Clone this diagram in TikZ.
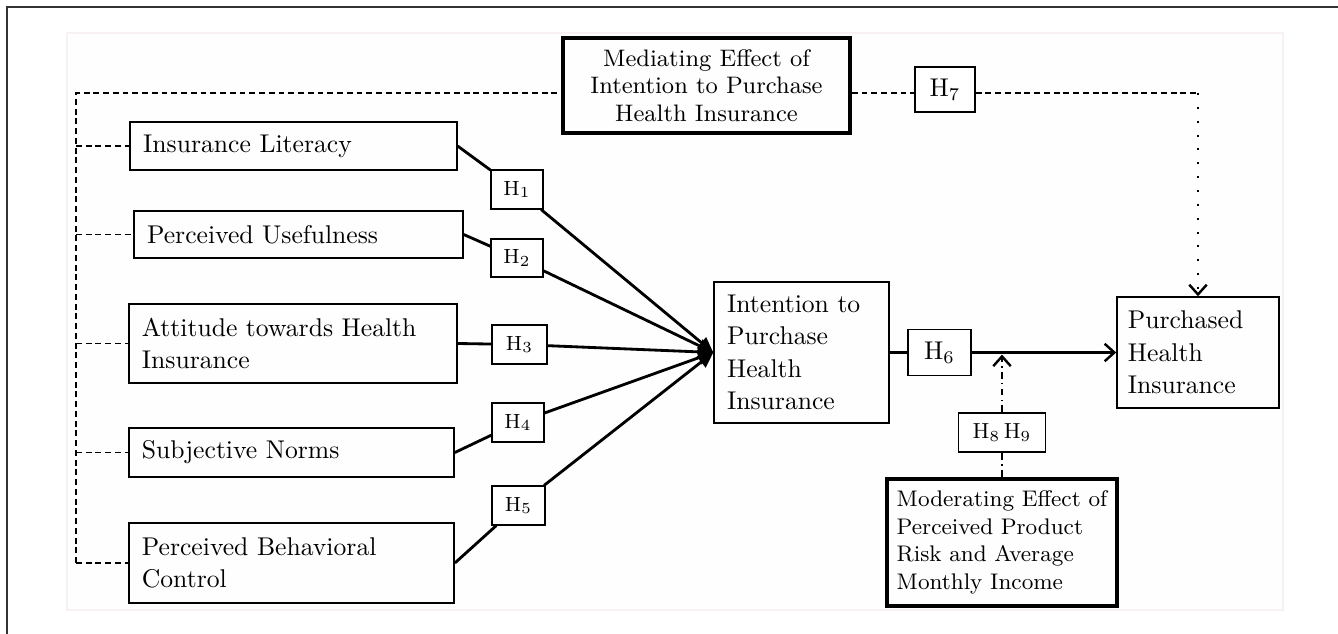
\documentclass[tikz,border=0pt]{standalone}
\usetikzlibrary{arrows.meta}
\definecolor{bgpink}{HTML}{FFFEFE}
\definecolor{bgline}{HTML}{F8F1F1}
\newcommand{\boxfont}{\fontsize{10}{12.6}\selectfont}
\newcommand{\notefont}{\fontsize{9.3}{10.7}\selectfont}
\newcommand{\modfont}{\fontsize{8.8}{10.7}\selectfont}
\newcommand{\hypfont}{\fontsize{8}{9}\selectfont}
\newcommand{\pairfont}{\fontsize{8.5}{9}\selectfont}
\tikzset{
  construct/.style={draw, line width=0.6pt, inner xsep=0.178cm, inner ysep=0pt, align=left, font=\boxfont},
  effect/.style={draw, line width=1.5pt, inner xsep=0pt, inner ysep=0pt},
  hyp/.style={draw, fill=white, line width=0.6pt, inner sep=0pt, font=\hypfont},
  hpath/.style={line width=1.1pt},
  covar/.style={line width=0.6pt, dash pattern=on 2.3pt off 1.5pt},
  dotline/.style={line width=0.95pt, dash pattern=on 0.8pt off 4.6pt},
  dashdot/.style={line width=0.55pt, dash pattern=on 2.7pt off 1.6pt on 0.7pt off 1.6pt},
  vtip/.tip={Straight Barb[length=3.8pt,width=6.8pt,line width=0.95pt]},
}
\begin{document}
\begin{tikzpicture}[x=0.0137cm, y=-0.0137cm]
    \useasboundingbox (0,0) rectangle (1338,634);
    \fill[bgpink, draw=bgline] (67,33) rectangle (1283,610);
    \draw[line width=0.8pt, black!80] (1338,7) -- (7,7) -- (7,634);

    % constructs
    \node[construct, text width=4.12cm, minimum height=0.66cm] (il) at (293.5,146) {Insurance Literacy};
    \node[construct, text width=4.15cm, minimum height=0.644cm] (pu) at (298.5,234.5) {Perceived Usefulness};
    \node[construct, text width=4.14cm, minimum height=1.08cm] (att) at (293,343.5) {Attitude towards Health\\Insurance};
    \node[construct, text width=4.10cm, minimum height=0.67cm] (sn) at (291.5,452.5) {Subjective Norms};
    \node[construct, text width=4.10cm, minimum height=1.10cm] (pbc) at (291.5,563) {Perceived Behavioral\\Control};
    \node[construct, text width=2.04cm, minimum height=1.93cm] (int) at (801.5,352.5) {Intention to\\Purchase\\Health\\Insurance};
    \node[construct, inner xsep=0.15cm, text width=1.92cm, minimum height=1.52cm] (pur) at (1198,352.5) {Purchased\\Health\\Insurance};
    \node[effect, font=\notefont, align=center, minimum width=3.93cm, minimum height=1.30cm] (med) at (706.5,85.5) {Mediating Effect of\\Intention to Purchase\\Health Insurance};
    \node[effect, font=\modfont, align=left, minimum width=3.15cm, minimum height=1.74cm] (mod) at (1002,542.5) {Moderating Effect of\\Perceived Product\\Risk and Average\\Monthly Income};

    % hypotheses
    \node[hyp, minimum width=0.71cm, minimum height=0.53cm] (h1) at (517,189.5) {H$_1$};
    \node[hyp, minimum width=0.71cm, minimum height=0.52cm] (h2) at (517,258) {H$_2$};
    \node[hyp, minimum width=0.75cm, minimum height=0.53cm] (h3) at (519.5,344.5) {H$_3$};
    \node[hyp, minimum width=0.71cm, minimum height=0.53cm] (h4) at (518,422.5) {H$_4$};
    \node[hyp, minimum width=0.73cm, minimum height=0.53cm] (h5) at (518.5,505.5) {H$_5$};
    \node[hyp, font=\boxfont, minimum width=0.86cm, minimum height=0.63cm] (h6) at (939.5,352.5) {H$_6$};
    \node[hyp, font=\boxfont, minimum width=0.82cm, minimum height=0.62cm] (h7) at (945,89.5) {H$_7$};
    \node[hyp, font=\pairfont, minimum width=1.19cm, minimum height=0.53cm] (h89) at (1002,432.5) {H$_8$\,H$_9$};

    \foreach \s/\h in {il/h1, pu/h2, att/h3, sn/h4, pbc/h5} {
        \draw[hpath] (\s.east) -- (\h);
        \draw[hpath, -{Triangle[length=6pt,width=5.4pt]}] (\h) -- (int.west);
    }
    \draw[hpath] (int.east) -- (h6);
    \draw[hpath, -vtip] (h6) -- (pur.west);

    % moderation
    \draw[dashdot] (mod.north) -- (h89.south);
    \draw[dashdot, -vtip] (h89.north) -- ([yshift=-0.8pt]h89.north |- h6.east);

    % mediation
    \coordinate (tl) at (76,93);
    \coordinate (tr) at (1198,93);
    \draw[covar] (tl |- pbc.west) -- (tl) -- (tl -| med.west);
    \draw[covar] (med.east |- tl) -- (h7.west |- tl);
    \draw[covar] (h7.east |- tl) -- (tr);
    \draw[dotline, -vtip] (tr) -- (pur.north);
    \foreach \s in {il, pu, att, sn, pbc}
        \draw[covar] (tl |- \s.west) -- (\s.west);
\end{tikzpicture}
\end{document}
